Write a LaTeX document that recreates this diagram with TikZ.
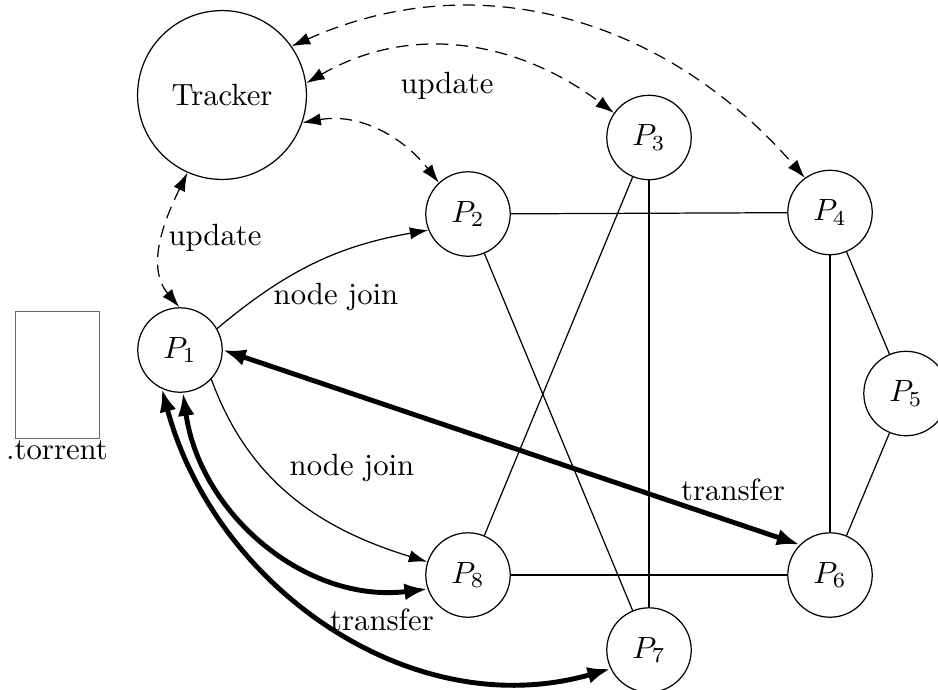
\documentclass[tikz,border=0pt]{standalone}
\usetikzlibrary{arrows.meta}
\begin{document}
\begin{tikzpicture}[x=0.3257pt,y=-0.3257pt,
  peer/.style={circle,draw,line width=0.4pt,minimum size=27.5pt,inner sep=0pt},
  bigpeer/.style={circle,draw,line width=0.4pt,minimum size=55pt,inner sep=0pt},
  thinarrow/.style={line width=0.4pt,-{Latex[length=6pt,width=4pt]}},
  dasharrow/.style={line width=0.4pt,dash pattern=on 4pt off 2.5pt,{Latex[length=6pt,width=4pt]}-{Latex[length=6pt,width=4pt]}},
  thickarrow/.style={line width=1.6pt,{Latex[length=7.5pt,width=5.5pt]}-{Latex[length=7.5pt,width=5.5pt]}},
  link/.style={line width=0.4pt},
  lbl/.style={inner sep=0pt}]
\useasboundingbox (0,0) rectangle (938,689);
% nodes
\node[bigpeer] (T) at (222,95) {Tracker};
\node[peer] (P1) at (180,350) {$P_1$};
\node[peer] (P2) at (468,214) {$P_2$};
\node[peer] (P3) at (649,137.5) {$P_3$};
\node[peer] (P4) at (830,212.5) {$P_4$};
\node[peer] (P5) at (906,393.5) {$P_5$};
\node[peer] (P6) at (830,575) {$P_6$};
\node[peer] (P7) at (649,650) {$P_7$};
\node[peer] (P8) at (468,575) {$P_8$};
\node[draw=black!60,line width=0.4pt,minimum width=27.5pt,minimum height=41.5pt,inner sep=0pt] (torrent) at (57.5,375) {};
\node[lbl] (torrentlbl) at (57,450) {.torrent};
% mesh links
\draw[link] (P2) -- (P4);
\draw[link] (P2) -- (P7);
\draw[link] (P3) -- (P8);
\draw[link] (P3) -- (P7);
\draw[link] (P4) -- (P6);
\draw[link] (P4) -- (P5);
\draw[link] (P5) -- (P6);
\draw[link] (P8) -- (P6);
% tracker updates
\draw[dasharrow] (T.246) to[out=244,in=130] (P1.91);
\draw[dasharrow] (T.-19) to[out=10,in=128] (P2.133);
\draw[dasharrow] (T.8) to[out=30,in=143] (P3.145);
\draw[dasharrow] (T.35) to[out=24,in=131] (P4.126);
% node join
\draw[thinarrow] (P1.30) to[out=40,in=190] (P2.202);
\draw[thinarrow] (P1.-43) to[out=-70,in=163] (P8.162);
% transfers
\draw[thickarrow] (P1.east) -- (P6.north west);
\draw[thickarrow] (P1.-86) to[out=-82,in=187] (P8.199);
\draw[thickarrow] (P1.-115) to[out=-75,in=196] (P7.206);
% labels
\node[lbl] (l1) at (447,86) {update};
\node[lbl] (l2) at (215,238) {update};
\node[lbl] (l3) at (336,297) {node join};
\node[lbl] (l4) at (352,468) {node join};
\node[lbl] (l5) at (382,620) {transfer};
\node[lbl] (l6) at (733,490) {transfer};
\end{tikzpicture}
\end{document}
